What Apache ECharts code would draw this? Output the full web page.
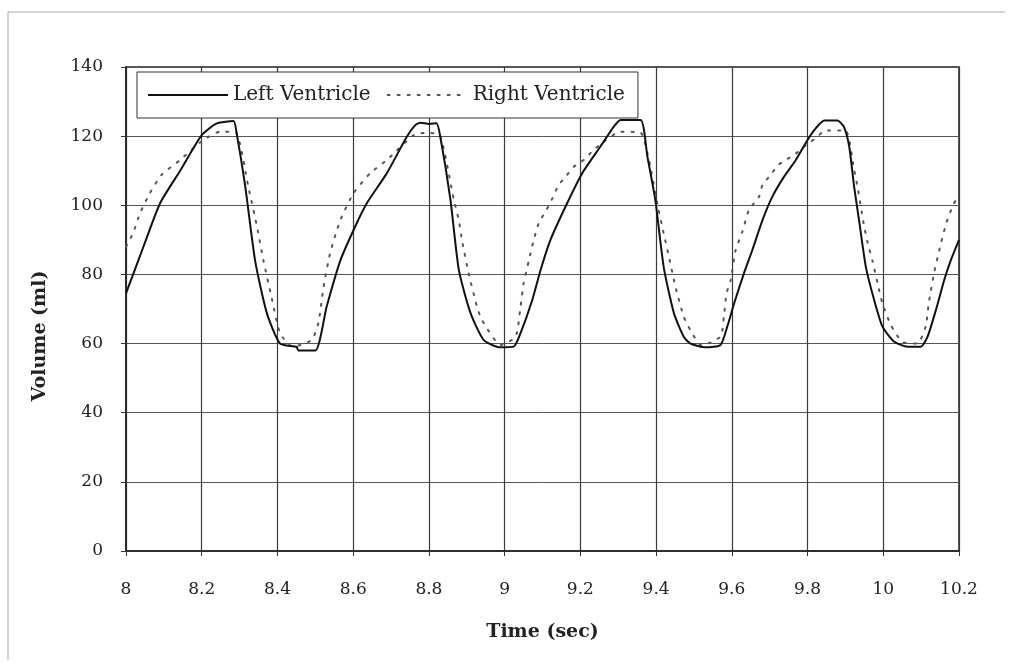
<!DOCTYPE html>
<html>
<head>
<meta charset="utf-8">
<script src="https://cdn.jsdelivr.net/npm/echarts@6/dist/echarts.min.js"></script>
<style>
  html, body { margin: 0; padding: 0; background: #fff; }
  #chart { width: 1012px; height: 665px; }
</style>
</head>
<body>
<div id="chart"></div>
<script>
// Left ventricle (solid)
const lvTime = [8.000, 8.046, 8.090, 8.143, 8.200, 8.240, 8.284, 8.292, 8.315, 8.341, 8.372, 8.407, 8.451, 8.455, 8.500,
  8.530, 8.566, 8.605, 8.636, 8.689, 8.742, 8.764, 8.777, 8.800, 8.820, 8.830, 8.857, 8.879, 8.910, 8.945, 8.989,
  9.024, 9.042, 9.073, 9.095, 9.121, 9.165, 9.205, 9.253, 9.288, 9.306, 9.359, 9.377, 9.398, 9.420, 9.447, 9.473,
  9.491, 9.531, 9.570, 9.588, 9.606, 9.632, 9.654, 9.681, 9.707, 9.738, 9.769, 9.800, 9.822, 9.844, 9.879, 9.896,
  9.910, 9.923, 9.936, 9.954, 9.976, 9.998, 10.029, 10.064, 10.099, 10.117, 10.139, 10.161, 10.178, 10.200];
const lvVolume = [74.5, 88, 100.6, 110, 120.3, 123.7, 124.4, 121, 105.4, 84, 68.8, 60, 59, 58, 58,
  70.7, 84, 93.8, 100.6, 109.3, 119.9, 123.2, 123.9, 123.5, 123.7, 119.9, 101.5, 81.3, 68.8, 61, 58.9,
  59.1, 63, 72.6, 81.3, 90, 100.6, 109.3, 117, 122.7, 124.7, 124.7, 114.1, 101.5, 82.2, 68.8, 62,
  60, 58.9, 59.6, 64.9, 71.6, 80.3, 87, 95.7, 102.5, 108.3, 113.1, 118.9, 122.3, 124.5, 124.5, 122.7,
  117, 105.4, 95.7, 82.2, 72.6, 64.9, 60.5, 59.1, 59.1, 62, 69.7, 78.4, 84, 90];

// Right ventricle (dotted)
const rvTime = [8.000, 8.019, 8.037, 8.063, 8.094, 8.143, 8.200, 8.249, 8.290, 8.323, 8.346, 8.363, 8.385, 8.407, 8.440,
  8.490, 8.508, 8.522, 8.539, 8.566, 8.601, 8.645, 8.689, 8.760, 8.800, 8.830, 8.866, 8.879, 8.888, 8.905, 8.927,
  8.940, 8.990, 9.029, 9.042, 9.050, 9.064, 9.077, 9.090, 9.108, 9.126, 9.143, 9.165, 9.183, 9.209, 9.235, 9.262,
  9.306, 9.359, 9.381, 9.403, 9.420, 9.434, 9.451, 9.473, 9.490, 9.520, 9.570, 9.579, 9.586, 9.597, 9.610, 9.628,
  9.645, 9.672, 9.681, 9.703, 9.720, 9.742, 9.764, 9.800, 9.826, 9.844, 9.900, 9.923, 9.932, 9.948, 9.959, 9.972,
  9.985, 9.998, 10.020, 10.050, 10.090, 10.112, 10.120, 10.134, 10.147, 10.165, 10.174, 10.187, 10.200];
const rvVolume = [88, 92, 97.7, 103.5, 108.8, 113.1, 118.5, 121.3, 121, 105.4, 93.8, 84, 73.1, 63, 59.1,
  61, 65.9, 76.5, 86.1, 95.7, 103.5, 109.3, 113.1, 120.3, 121, 120, 101.5, 95.7, 89.5, 80.3, 70.7,
  66.8, 59.6, 62, 70.7, 77.4, 84, 90, 94.8, 98.2, 102, 105.9, 108.8, 111.2, 113.1, 116, 118.4,
  121.3, 121, 113.1, 100.6, 91.9, 85.1, 76.5, 67.8, 64, 59.5, 62, 67.8, 74.5, 78.4, 87, 92.4,
  98.6, 102.5, 105.9, 108.8, 111.4, 113.1, 114.5, 117.8, 119.7, 121.6, 121.6, 110.2, 105.4, 94.8, 89, 83.7,
  77.4, 71.6, 65.4, 60.5, 60, 64.9, 71.6, 80.3, 86.6, 94.3, 97.2, 100.6, 103];

const seriesNames = ['Left Ventricle', 'Right Ventricle'];

const serif = '"DejaVu Serif", "Liberation Serif", serif';

function pairs(xs, ys) {
  return xs.map(function (x, i) { return [x, ys[i]]; });
}

const myChart = echarts.init(document.getElementById('chart'), null, { renderer: 'canvas' });

myChart.setOption({
  animation: false,
  backgroundColor: '#fff',
  textStyle: { fontFamily: serif },
  grid: { left: 126, right: 53, top: 67, bottom: 114, show: true, borderColor: '#222', borderWidth: 1.5 },
  legend: {
    left: 137, top: 72,
    data: seriesNames,
    itemWidth: 80, itemHeight: 12, itemGap: 16,
    padding: [13, 13, 13, 10],
    backgroundColor: '#fff',
    borderColor: '#333', borderWidth: 1, borderRadius: 0,
    itemStyle: { opacity: 0 },
    textStyle: { fontFamily: serif, fontSize: 20, color: '#222' }
  },
  xAxis: {
    type: 'value', min: 8, max: 10.2, interval: 0.2,
    name: 'Time (sec)', nameLocation: 'middle', nameGap: 72,
    nameTextStyle: { fontFamily: serif, fontSize: 19, fontWeight: 'bold', color: '#222' },
    axisLine: { show: true, onZero: false, lineStyle: { color: '#222', width: 1.5 } },
    axisTick: { show: true, inside: false, length: 5, lineStyle: { color: '#333' } },
    axisLabel: {
      margin: 30, fontSize: 17, color: '#222', fontFamily: serif,
      formatter: function (v) { return String(Math.round(v * 10) / 10); }
    },
    splitLine: { show: true, lineStyle: { color: '#3a3a3a', width: 1.2 } }
  },
  yAxis: {
    type: 'value', min: 0, max: 140, interval: 20,
    name: 'Volume (ml)', nameLocation: 'middle', nameGap: 76, nameRotate: 90,
    nameTextStyle: { fontFamily: serif, fontSize: 19, fontWeight: 'bold', color: '#222', padding: [0, 54, 0, 0] },
    axisLine: { show: true, lineStyle: { color: '#222', width: 1.5 } },
    axisTick: { show: true, length: 5, lineStyle: { color: '#333' } },
    axisLabel: { margin: 23, fontSize: 17, color: '#222', fontFamily: serif },
    splitLine: { show: true, lineStyle: { color: '#555', width: 1 } }
  },
  series: [
    {
      name: seriesNames[0],
      type: 'line',
      data: pairs(lvTime, lvVolume),
      showSymbol: false,
      symbol: 'none',
      smooth: 0.2,
      lineStyle: { color: '#111', width: 2 },
      itemStyle: { color: '#111' },
      z: 3
    },
    {
      name: seriesNames[1],
      type: 'line',
      data: pairs(rvTime, rvVolume),
      showSymbol: false,
      symbol: 'none',
      smooth: 0.2,
      lineStyle: { color: '#555', width: 2, type: [2, 8], cap: 'round' },
      itemStyle: { color: '#555' },
      z: 2
    }
  ],
  graphic: [
    { type: 'line', shape: { x1: 8, y1: 12, x2: 1005, y2: 12 }, style: { stroke: '#aaa', lineWidth: 1 }, silent: true },
    { type: 'line', shape: { x1: 8, y1: 12, x2: 8, y2: 660 }, style: { stroke: '#aaa', lineWidth: 1 }, silent: true }
  ]
});
</script>
</body>
</html>
